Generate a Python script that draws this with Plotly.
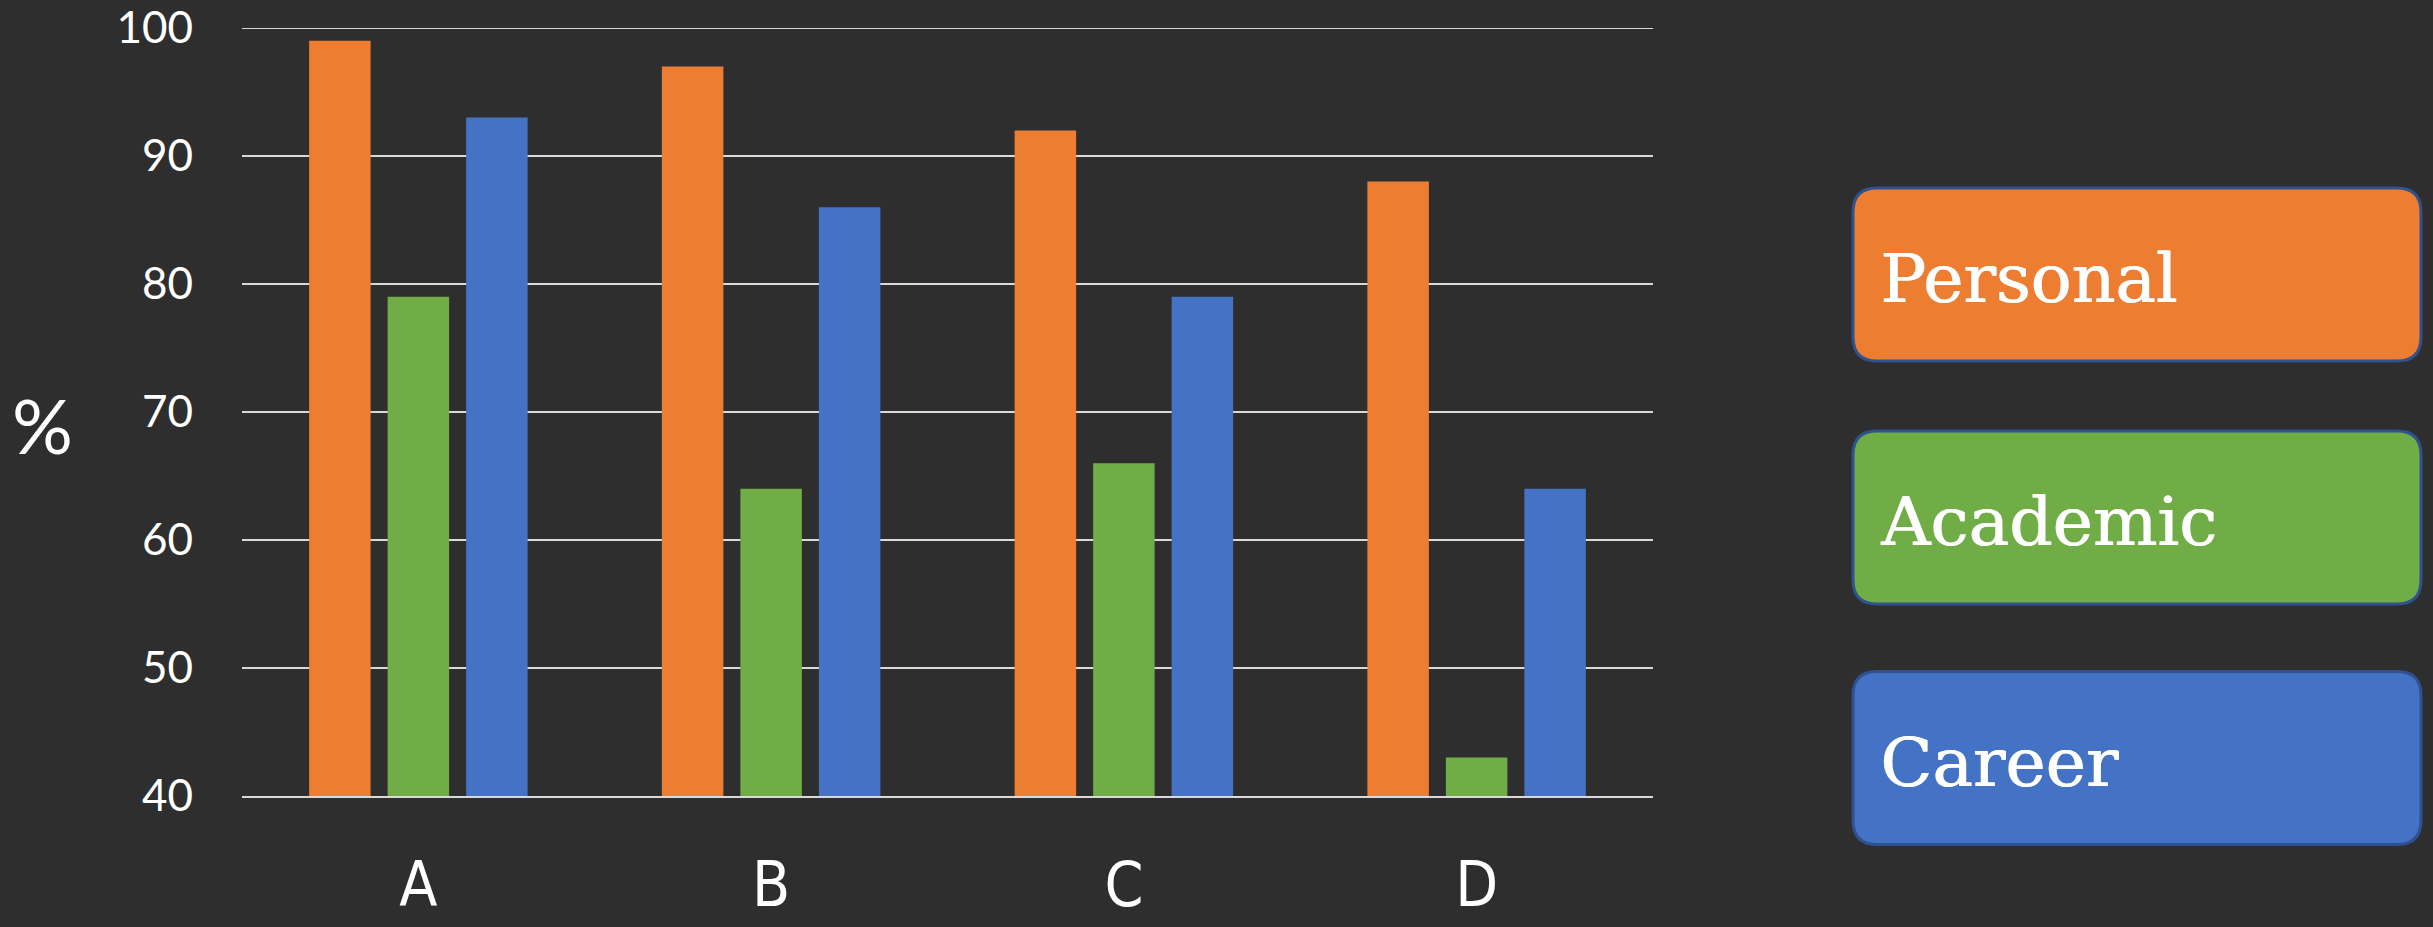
import plotly.graph_objects as go

categories = ["A", "B", "C", "D"]
series_names = ["Personal", "Academic", "Career"]
personal = [99, 97, 92, 88]
academic = [79, 64, 66, 43]
career = [93, 86, 79, 64]
colors = ["#ED7D31", "#70AD47", "#4472C4"]
y_ticks = [40, 50, 60, 70, 80, 90, 100]

W, H = 2433, 927
L, R, T, B = 242, 1653, 28, 796  # plot area in pixels

fig = go.Figure()
for name, vals, c in zip(series_names, [personal, academic, career], colors):
    fig.add_trace(go.Bar(x=categories, y=vals, name=name, marker=dict(color=c, line=dict(width=0)),
                         showlegend=False, cliponaxis=False))

def px_x(p):
    return (p - L) / (R - L)

def px_y(p):
    return (B - p) / (B - T)

# top gridline (plotly skips the gridline on the top edge)
fig.add_shape(type="line", xref="paper", yref="y", x0=0, x1=1, y0=max(y_ticks), y1=max(y_ticks),
              line=dict(color="#d9d9d9", width=2), layer="below")

# legend boxes (pixel geometry)
box_cx = 2137
box_w, box_h, rad = 568, 173, 24
box_cy = [274.5, 517.5, 758]
hw, hh = box_w / 2, box_h / 2
path = (f"M {-hw+rad},{-hh} L {hw-rad},{-hh} Q {hw},{-hh} {hw},{-hh+rad} "
        f"L {hw},{hh-rad} Q {hw},{hh} {hw-rad},{hh} L {-hw+rad},{hh} "
        f"Q {-hw},{hh} {-hw},{hh-rad} L {-hw},{-hh+rad} Q {-hw},{-hh} {-hw+rad},{-hh} Z")
for name, c, cy in zip(series_names, colors, box_cy):
    fig.add_shape(type="path", xref="paper", yref="paper", xsizemode="pixel", ysizemode="pixel",
                  xanchor=px_x(box_cx), yanchor=px_y(cy), path=path,
                  fillcolor=c, line=dict(color="#2F528F", width=3), layer="above")
    fig.add_annotation(x=px_x(1878), y=px_y(cy + 4), xref="paper", yref="paper", text=name,
                       showarrow=False, xanchor="left", yanchor="middle",
                       font=dict(family="Rockwell, 'DejaVu Serif', serif", size=68, color="white",
                                 shadow="1px 0px 0px white"))

fig.add_annotation(x=px_x(43), y=px_y(425), xref="paper", yref="paper", text="%",
                   showarrow=False, xanchor="center", yanchor="middle",
                   font=dict(family="Lato, 'Open Sans', sans-serif", size=76, color="white"))

fig.update_layout(
    width=W, height=H,
    margin=dict(l=L, r=W - R, t=T, b=H - B, pad=0, autoexpand=False),
    paper_bgcolor="#2e2e2e", plot_bgcolor="rgba(0,0,0,0)",
    barmode="group", bargap=0.3324, bargroupgap=0.2166,
    xaxis=dict(showgrid=False, showline=True, linecolor="#d9d9d9", linewidth=2, automargin=False,
               tickfont=dict(family="'Liberation Sans Narrow', 'DejaVu Sans Condensed', 'Liberation Sans', sans-serif",
                             size=62, color="white"),
               ticks="", ticklabelstandoff=34, zeroline=False),
    yaxis=dict(range=[40, 100], tickvals=y_ticks, showgrid=True, gridcolor="#d9d9d9", gridwidth=2,
               zeroline=False, showline=False, automargin=False,
               tickfont=dict(family="Lato, 'Open Sans', sans-serif", size=44, color="white"),
               ticks="", ticklabelstandoff=48),
)

fig.write_html("out.html")
